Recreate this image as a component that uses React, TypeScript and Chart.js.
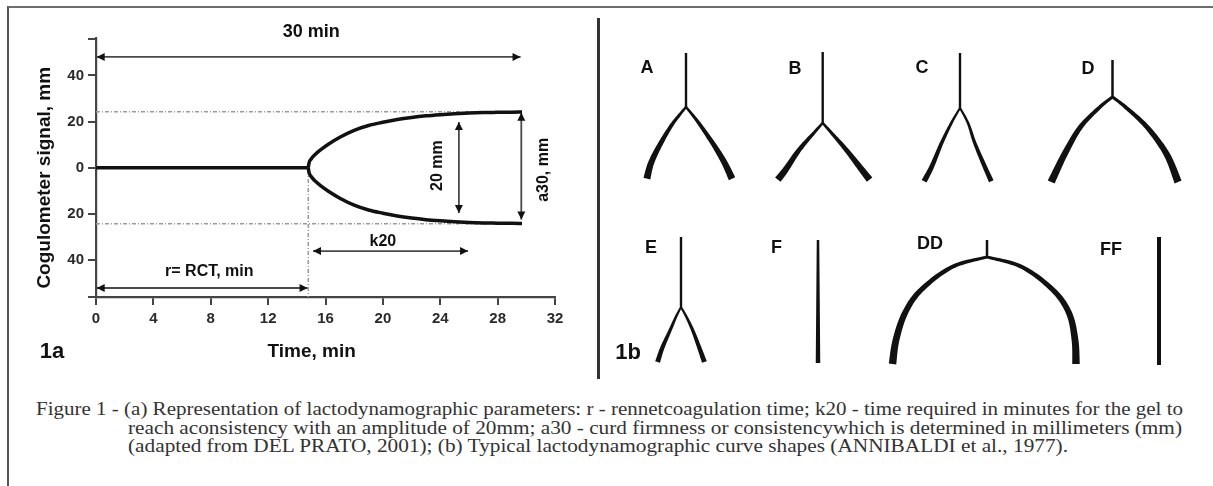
import React, { useEffect, useLayoutEffect, useRef } from 'react';
import { Chart, registerables } from 'chart.js';

Chart.register(...registerables);

// ---------------- Panel 1a data ----------------
const flatTime = [0, 14.8];
const flatSignal = [0, 0];
const curveTime = [14.8, 14.85, 15.0, 15.3, 15.7, 16.2, 17.0, 18.0, 19.0, 20.0, 21.0, 22.0, 23.0, 24.0, 25.0, 26.0, 27.0, 28.0, 29.0, 29.7];
const upperSignal = [0, 2.0, 3.8, 5.9, 8.0, 10.2, 13.2, 16.2, 18.3, 19.7, 20.9, 21.8, 22.5, 23.0, 23.4, 23.7, 23.9, 24.0, 24.1, 24.2];
const lowerSignal = [0, -2.0, -3.8, -5.9, -8.0, -10.2, -13.2, -16.2, -18.3, -19.7, -20.9, -21.8, -22.5, -23.0, -23.4, -23.7, -23.9, -24.0, -24.1, -24.2];
const xTickValues = [0, 4, 8, 12, 16, 20, 24, 28, 32];
const yTickValues = [-56, -40, -20, 0, 20, 40, 56];
const refLevels = [24.3, -24.3];
const refSpan = [0, 29.6];
const rctTime = 14.8;
const rctDropSpan = [-1, -56];
// arrows: [start, end] along their direction, and the fixed coordinate
const arrow30Span = [0.05, 29.6];
const arrow30Level = 48.0;
const arrowRctSpan = [0.05, 14.75];
const arrowRctLevel = -52.1;
const arrowK20Span = [15.13, 25.94];
const arrowK20Level = -36.1;
const arrow20mmSpan = [19.8, -19.6];
const arrow20mmTime = 25.3;
const arrowA30Span = [23.8, -22.4];
const arrowA30Time = 29.65;

// ---------------- Panel 1b data (panel units) ----------------
const shapeNames = ['A', 'B', 'C', 'D', 'E', 'F', 'DD', 'FF'];
const shapeLabelX = [47, 195, 322, 488, 51, 176.5, 330, 511];
const shapeLabelY = [68, 69, 68, 69, 248, 248, 244, 250];
const stemX = [86, 222.7, 360, 512.5, 81, 218, 387, 559];
const stemTop = [53, 52, 53, 60, 237, 240, 240, 237];
const stemEnd = [107, 123, 108, 97, 307, 363, 257, 365];

const aLeftDx = [0, -7, -15.6, -27.3, -35.2, -39.1];
const aRightDx = [0, 7, 15.6, 29.2, 39, 46];
const aDy = [0, 8.5, 20, 40, 56.7, 71.7];
const bLeftDx = [0, -8, -23.4, -37.1, -44.9];
const bRightDx = [0, 8, 23.4, 39.1, 46.9];
const bDy = [0, 9, 26.7, 46.7, 56.7];
const cLeftDx = [0, -8.6, -18.4, -28.1, -35.9];
const cRightDx = [0, 8, 14.8, 24.6, 31.3];
const cDy = [0, 15, 35, 58.3, 73.3];
const dLeftDx = [0, -12.5, -32, -47.7, -61.3];
const dRightDx = [0, 12.9, 34.4, 53.9, 65.6];
const dDy = [0, 10, 30, 56.7, 85];
const eLeftDx = [0, -5.1, -10.9, -18.75, -23.4];
const eRightDx = [0, 5.5, 11.7, 18.4, 23.4];
const eDy = [0, 10, 23.3, 41, 55];
const ddLeftDx = [0, -35, -66, -82, -91, -94.5];
const ddRightDx = [0, 35, 66, 82, 88, 89];
const ddDy = [0, 10, 33, 56, 83, 107];

const captionLines = [
  'Figure 1 - (a) Representation of lactodynamographic parameters: r - rennetcoagulation time; k20 - time required in minutes for the gel to',
  'reach aconsistency with an amplitude of 20mm; a30 - curd firmness or consistencywhich is determined in millimeters (mm)',
  '(adapted from DEL PRATO, 2001); (b) Typical lactodynamographic curve shapes (ANNIBALDI et al., 1977).',
];

// ---------------- styles / layout ----------------
const SANS = '"Liberation Sans", Arial, sans-serif';
const SERIF = '"Liberation Serif", "Times New Roman", serif';
const INK = '#111';
const AXIS = '#444';

const captionLeft = [36, 128, 128];
const captionRight = [1183, 1182, 1068];
const captionCenterY = [409, 428, 446];

function pts(xs: number[], ys: number[]) {
  return xs.map((x, i) => ({ x, y: ys[i] }));
}

function drawHead(ctx: CanvasRenderingContext2D, tx: number, ty: number, fx: number, fy: number) {
  const ang = Math.atan2(ty - fy, tx - fx);
  ctx.save();
  ctx.translate(tx, ty);
  ctx.rotate(ang);
  ctx.beginPath();
  ctx.moveTo(0, 0);
  ctx.lineTo(-8, -4);
  ctx.lineTo(-8, 4);
  ctx.closePath();
  ctx.fillStyle = INK;
  ctx.fill();
  ctx.restore();
}

const arrowPlugin = {
  id: 'arrowHeads',
  afterDatasetsDraw(chart: any) {
    const ctx = chart.ctx;
    chart.data.datasets.forEach((ds: any, i: number) => {
      if (!ds.arrowHeads) return;
      const p = chart.getDatasetMeta(i).data;
      const a = p[0];
      const b = p[p.length - 1];
      drawHead(ctx, a.x, a.y, b.x, b.y);
      drawHead(ctx, b.x, b.y, a.x, a.y);
    });
  },
};

// tapered strokes through the dataset's pixel points (Catmull-Rom)
const taperPlugin = {
  id: 'taper',
  afterDatasetsDraw(chart: any) {
    const ctx = chart.ctx;
    chart.data.datasets.forEach((ds: any, di: number) => {
      if (!ds.taper) return;
      const p = chart.getDatasetMeta(di).data.map((e: any) => ({ x: e.x, y: e.y }));
      const n = p.length;
      const s: { x: number; y: number }[] = [];
      const steps = 14;
      for (let i = 0; i < n - 1; i++) {
        const p0 = p[i - 1] || p[i];
        const p1 = p[i];
        const p2 = p[i + 1];
        const p3 = p[i + 2] || p[i + 1];
        for (let k = 0; k < steps; k++) {
          const t = k / steps;
          const t2 = t * t;
          const t3 = t2 * t;
          const f = (a: number, b: number, c: number, d: number) =>
            0.5 * (2 * b + (-a + c) * t + (2 * a - 5 * b + 4 * c - d) * t2 + (-a + 3 * b - 3 * c + d) * t3);
          s.push({ x: f(p0.x, p1.x, p2.x, p3.x), y: f(p0.y, p1.y, p2.y, p3.y) });
        }
      }
      s.push(p[n - 1]);
      const len: number[] = [0];
      for (let j = 1; j < s.length; j++) len.push(len[j - 1] + Math.hypot(s[j].x - s[j - 1].x, s[j].y - s[j - 1].y));
      const L = len[len.length - 1] || 1;
      const [w0, w1] = ds.taper;
      const left: { x: number; y: number }[] = [];
      const right: { x: number; y: number }[] = [];
      for (let j = 0; j < s.length; j++) {
        const a = s[Math.max(0, j - 1)];
        const b = s[Math.min(s.length - 1, j + 1)];
        let tx = b.x - a.x;
        let ty = b.y - a.y;
        const tl = Math.hypot(tx, ty) || 1;
        tx /= tl;
        ty /= tl;
        const w = (w0 + (w1 - w0) * (len[j] / L)) / 2;
        left.push({ x: s[j].x - ty * w, y: s[j].y + tx * w });
        right.push({ x: s[j].x + ty * w, y: s[j].y - tx * w });
      }
      ctx.save();
      ctx.beginPath();
      left.forEach((q, j) => (j ? ctx.lineTo(q.x, q.y) : ctx.moveTo(q.x, q.y)));
      for (let j = right.length - 1; j >= 0; j--) ctx.lineTo(right[j].x, right[j].y);
      ctx.closePath();
      ctx.fillStyle = INK;
      ctx.fill();
      ctx.restore();
    });
  },
};

const leftTextPlugin = {
  id: 'leftText',
  afterDraw(chart: any) {
    const { ctx, chartArea } = chart;
    const xs = chart.scales.x;
    const ys = chart.scales.y;
    const put = (text: string, px: number, py: number, size: number, rot = false) => {
      ctx.save();
      ctx.font = `bold ${size}px ${SANS}`;
      ctx.fillStyle = INK;
      ctx.textAlign = 'center';
      ctx.textBaseline = 'middle';
      ctx.translate(px, py);
      if (rot) ctx.rotate(-Math.PI / 2);
      ctx.fillText(text, 0, 0);
      ctx.restore();
    };
    put('30 min', xs.getPixelForValue(15.0), ys.getPixelForValue(58.7), 18);
    put('r= RCT, min', xs.getPixelForValue(7.9), ys.getPixelForValue(-44.8), 16);
    put('k20', xs.getPixelForValue(20.0), ys.getPixelForValue(-32.2), 16);
    put('20 mm', xs.getPixelForValue(23.8), ys.getPixelForValue(0.9), 16, true);
    put('a30, mm', xs.getPixelForValue(31.2), ys.getPixelForValue(-0.9), 16, true);
    put('Cogulometer signal, mm', chartArea.left - 51, (chartArea.top + chartArea.bottom) / 2 + 10, 19, true);
    put('Time, min', chartArea.left + chartArea.width * 0.47, chartArea.bottom + 55, 19);
    put('1a', chartArea.left - 44, chartArea.bottom + 55, 22);
  },
};

function LeftChart() {
  const ref = useRef<HTMLCanvasElement>(null);
  useEffect(() => {
    const line = (data: any[], extra: any = {}) => ({
      data,
      showLine: true,
      pointRadius: 0,
      borderColor: INK,
      borderWidth: 3.5,
      fill: false,
      ...extra,
    });
    const dotted = { borderColor: '#9a9a9a', borderWidth: 1.5, borderDash: [4, 2, 1, 2] };
    const arrowStyle = { borderColor: '#4a4a4a', borderWidth: 1.8, arrowHeads: true };
    const datasets: any[] = [
      line(pts(flatTime, flatSignal)),
      line(pts(curveTime, upperSignal), { cubicInterpolationMode: 'monotone' }),
      line(pts(curveTime, lowerSignal), { cubicInterpolationMode: 'monotone' }),
      line(pts(refSpan, [refLevels[0], refLevels[0]]), dotted),
      line(pts(refSpan, [refLevels[1], refLevels[1]]), dotted),
      line(pts([rctTime, rctTime], rctDropSpan), dotted),
      line(pts(arrow30Span, [arrow30Level, arrow30Level]), arrowStyle),
      line(pts(arrowRctSpan, [arrowRctLevel, arrowRctLevel]), arrowStyle),
      line(pts(arrowK20Span, [arrowK20Level, arrowK20Level]), arrowStyle),
      line(pts([arrow20mmTime, arrow20mmTime], arrow20mmSpan), arrowStyle),
      line(pts([arrowA30Time, arrowA30Time], arrowA30Span), arrowStyle),
    ];
    const axisCommon = {
      type: 'linear',
      grid: { display: true, drawOnChartArea: false, drawTicks: true, tickLength: 8, color: AXIS, lineWidth: 2 },
      border: { display: true, color: AXIS, width: 2.2 },
    };
    const tickFont = { family: SANS, size: 15, weight: 'bold' };
    const chart = new Chart(ref.current as HTMLCanvasElement, {
      type: 'scatter',
      data: { datasets },
      options: {
        animation: false,
        responsive: true,
        maintainAspectRatio: false,
        events: [],
        layout: { padding: { left: 0, top: 38.5, right: 43, bottom: 0 } },
        plugins: { legend: { display: false }, tooltip: { enabled: false } },
        scales: {
          x: {
            ...axisCommon,
            min: 0,
            max: 32,
            afterBuildTicks: (s: any) => {
              s.ticks = xTickValues.map((v) => ({ value: v }));
            },
            afterFit: (s: any) => {
              s.height = 83;
            },
            ticks: { color: '#2a2a2a', font: tickFont, padding: 5, maxRotation: 0, autoSkip: false },
          },
          y: {
            ...axisCommon,
            min: -56,
            max: 56,
            afterBuildTicks: (s: any) => {
              s.ticks = yTickValues.map((v) => ({ value: v }));
            },
            afterFit: (s: any) => {
              s.width = 96;
            },
            ticks: {
              color: '#2a2a2a',
              font: tickFont,
              padding: 4,
              autoSkip: false,
              callback: (v: any) => (Math.abs(v) === 56 ? '' : String(Math.abs(v))),
            },
          },
        },
      } as any,
      plugins: [arrowPlugin, leftTextPlugin],
    });
    return () => chart.destroy();
  }, []);
  return (
    <div style={{ position: 'absolute', left: 0, top: 0, width: 598, height: 380 }}>
      <canvas ref={ref} />
    </div>
  );
}

const rightTextPlugin = {
  id: 'rightText',
  afterDraw(chart: any) {
    const { ctx } = chart;
    const xs = chart.scales.x;
    const ys = chart.scales.y;
    ctx.save();
    ctx.fillStyle = INK;
    ctx.textAlign = 'center';
    ctx.textBaseline = 'middle';
    ctx.font = `bold 18px ${SANS}`;
    shapeNames.forEach((n, i) => {
      ctx.fillText(n, xs.getPixelForValue(shapeLabelX[i]), ys.getPixelForValue(shapeLabelY[i]));
    });
    ctx.font = `bold 22px ${SANS}`;
    ctx.fillText('1b', xs.getPixelForValue(28), ys.getPixelForValue(353));
    ctx.restore();
  },
};

function RightChart() {
  const ref = useRef<HTMLCanvasElement>(null);
  useEffect(() => {
    const branches: [number, number[], number[], number, number][] = [
      [0, aLeftDx, aDy, 2.4, 7],
      [0, aRightDx, aDy, 2.4, 7],
      [1, bLeftDx, bDy, 2.4, 7],
      [1, bRightDx, bDy, 2.4, 7],
      [2, cLeftDx, cDy, 2, 5.5],
      [2, cRightDx, cDy, 2, 5],
      [3, dLeftDx, dDy, 3, 7.5],
      [3, dRightDx, dDy, 3, 7.5],
      [4, eLeftDx, eDy, 2, 5],
      [4, eRightDx, eDy, 2, 5],
      [6, ddLeftDx, ddDy, 3, 7.5],
      [6, ddRightDx, ddDy, 3, 7.5],
    ];
    const stemWidths = [2.4, 2.4, 2.4, 2.5, 2.4, 2.5, 2.5, 4];
    const stemTaper = [0, 0, 0, 0, 0, 4.5, 0, 0];
    const datasets: any[] = [];
    shapeNames.forEach((_, i) => {
      const data = pts([stemX[i], stemX[i]], [stemTop[i], stemEnd[i]]);
      if (stemTaper[i]) {
        datasets.push({ data, showLine: false, pointRadius: 0, taper: [stemWidths[i], stemTaper[i]] });
      } else {
        datasets.push({
          data,
          showLine: true,
          pointRadius: 0,
          borderColor: INK,
          borderWidth: stemWidths[i],
          borderCapStyle: 'butt',
        });
      }
    });
    branches.forEach(([s, dx, dy, w0, w1]) => {
      datasets.push({
        data: pts(
          dx.map((d) => stemX[s] + d),
          dy.map((d) => stemEnd[s] + d)
        ),
        showLine: false,
        pointRadius: 0,
        taper: [w0, w1],
      });
    });
    const chart = new Chart(ref.current as HTMLCanvasElement, {
      type: 'scatter',
      data: { datasets },
      options: {
        animation: false,
        responsive: true,
        maintainAspectRatio: false,
        events: [],
        layout: { padding: 0 },
        plugins: { legend: { display: false }, tooltip: { enabled: false } },
        scales: {
          x: { type: 'linear', display: false, min: 0, max: 613 },
          y: { type: 'linear', display: false, min: 0, max: 386, reverse: true },
        },
      } as any,
      plugins: [taperPlugin, rightTextPlugin],
    });
    return () => chart.destroy();
  }, []);
  return (
    <div style={{ position: 'absolute', left: 600, top: 0, width: 613, height: 386 }}>
      <canvas ref={ref} />
    </div>
  );
}

function Caption() {
  const refs = useRef<(HTMLDivElement | null)[]>([]);
  useLayoutEffect(() => {
    refs.current.forEach((el, i) => {
      if (!el) return;
      const w = el.getBoundingClientRect().width;
      const target = captionRight[i] - captionLeft[i];
      if (w > 0) el.style.transform = `scaleX(${target / w})`;
    });
  }, []);
  return (
    <>
      {captionLines.map((t, i) => (
        <div
          key={i}
          ref={(el) => {
            refs.current[i] = el;
          }}
          style={{
            position: 'absolute',
            left: captionLeft[i],
            top: captionCenterY[i] - 11,
            height: 22,
            lineHeight: '22px',
            whiteSpace: 'nowrap',
            fontFamily: SERIF,
            fontSize: 19,
            color: '#333',
            transformOrigin: 'left center',
          }}
        >
          {t}
        </div>
      ))}
    </>
  );
}

export default function App() {
  return (
    <div
      style={{
        position: 'fixed',
        left: 0,
        top: 0,
        width: 1213,
        height: 486,
        background: '#fff',
        overflow: 'hidden',
      }}
    >
      <div
        style={{
          position: 'absolute',
          left: 7,
          top: 6,
          width: 1213,
          height: 486,
          borderTop: '2px solid #6e6e6e',
          borderLeft: '2px solid #555',
          boxSizing: 'border-box',
        }}
      />
      <div style={{ position: 'absolute', left: 597, top: 18, width: 3, height: 361, background: '#333' }} />
      <LeftChart />
      <RightChart />
      <Caption />
    </div>
  );
}
